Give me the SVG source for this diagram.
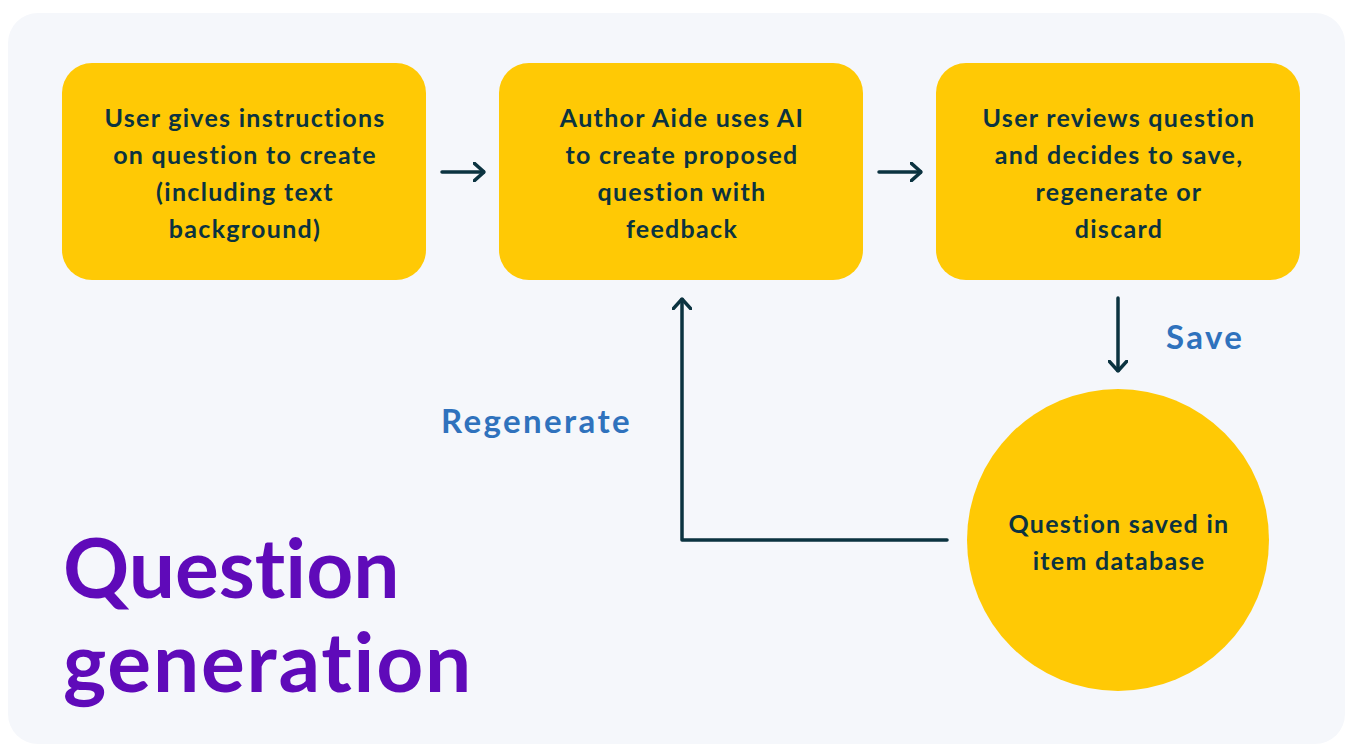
<svg xmlns="http://www.w3.org/2000/svg" width="1347" height="745" viewBox="0 0 1347 745">
<defs>
<style>
text{font-variant-ligatures:none;font-feature-settings:"liga" 0,"dlig" 0;}
.box{fill:#ffc905;}
.t{font-family:Lato,"Liberation Sans",sans-serif;font-weight:700;font-size:25px;letter-spacing:1.3px;fill:#0b3340;text-anchor:middle;}
.lbl{font-family:Lato,"Liberation Sans",sans-serif;font-weight:700;font-size:33px;letter-spacing:2.4px;fill:#2f72bd;}
.title{font-family:Lato,"Liberation Sans",sans-serif;font-weight:700;font-size:82px;fill:#5f0ab9;}
.c{fill:none;stroke:#0b3340;stroke-width:3.5;stroke-linecap:round;stroke-linejoin:round;}
</style>
<marker id="ah" viewBox="0 0 12 20" refX="11" refY="10" markerWidth="12" markerHeight="20" markerUnits="userSpaceOnUse" orient="auto">
<path d="M1,1 L11,10 L1,19" fill="none" stroke="#0b3340" stroke-width="3.5" stroke-linecap="round" stroke-linejoin="round"/>
</marker>
</defs>
<rect x="8" y="13" width="1337" height="731" rx="30" fill="#f5f7fb"/>
<g id="n1">
<rect class="box" x="62" y="63" width="364" height="217" rx="30"/>
<text class="t" x="245" y="127">User gives instructions</text>
<text class="t" x="245" y="164">on question to create</text>
<text class="t" x="245" y="201">(including text</text>
<text class="t" x="245" y="238">background)</text>
</g>
<g id="n2">
<rect class="box" x="499" y="63" width="364" height="217" rx="30"/>
<text class="t" x="682" y="127">Author Aide uses AI</text>
<text class="t" x="682" y="164">to create proposed</text>
<text class="t" x="682" y="201">question with</text>
<text class="t" x="682" y="238">feedback</text>
</g>
<g id="n3">
<rect class="box" x="936" y="63" width="364" height="217" rx="30"/>
<text class="t" x="1119" y="127">User reviews question</text>
<text class="t" x="1119" y="164">and decides to save,</text>
<text class="t" x="1119" y="201">regenerate or</text>
<text class="t" x="1119" y="238">discard</text>
</g>
<g id="n4">
<circle class="box" cx="1118" cy="540" r="151"/>
<text class="t" x="1119" y="533">Question saved in</text>
<text class="t" x="1119" y="570">item database</text>
</g>
<g id="connectors">
<line class="c" x1="442" y1="172" x2="484" y2="172" marker-end="url(#ah)"/>
<line class="c" x1="879" y1="172" x2="921" y2="172" marker-end="url(#ah)"/>
<line class="c" x1="1118" y1="298" x2="1118" y2="371" marker-end="url(#ah)"/>
<polyline class="c" points="947,540 682,540 682,299" marker-end="url(#ah)"/>
</g>
<text class="lbl" x="1166" y="349">Save</text>
<text class="lbl" x="441" y="433">Regenerate</text>
<text class="title" x="63" y="598">Question</text>
<text class="title" x="63" y="692" letter-spacing="1.8">generation</text>
</svg>
